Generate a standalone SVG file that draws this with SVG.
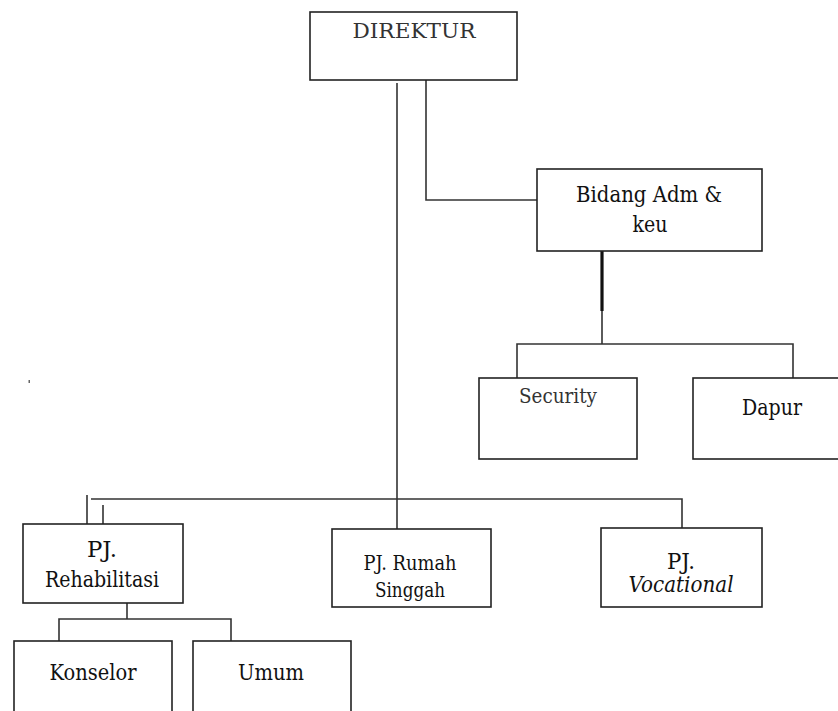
<svg xmlns="http://www.w3.org/2000/svg" width="838" height="711" viewBox="0 0 838 711">
<style>
.box{fill:#fff;stroke:#222;stroke-width:1.6}
.ln{fill:none;stroke:#333;stroke-width:1.6}
text{font-family:'DejaVu Serif','Liberation Serif',serif;fill:#111;text-anchor:middle}
.t{font-size:21.5px}
.s{font-size:19.5px}
.g{fill:#333;font-size:21px}
.i{font-style:italic}
</style>
<rect width="838" height="711" fill="#fff"/>
<g id="connectors">
<path class="ln" d="M397 83V529"/>
<path class="ln" d="M426 80V200H537"/>
<path d="M602 251V311" stroke="#111" stroke-width="3.2" fill="none"/>
<path class="ln" d="M602 311V344"/>
<path class="ln" d="M517 378V344H793V378"/>
<path class="ln" d="M91 499H682V528"/>
<path class="ln" d="M87 495V524"/>
<path class="ln" d="M103 505V524"/>
<path class="ln" d="M127 603V619"/>
<path class="ln" d="M59 641V619H231V641"/>
</g>
<rect x="28.5" y="380" width="1.5" height="3" fill="#666"/>
<g id="direktur">
<rect class="box" x="310" y="12" width="207" height="68"/>
<text class="g" x="414" y="38" textLength="123" lengthAdjust="spacingAndGlyphs">DIREKTUR</text>
</g>
<g id="bidang">
<rect class="box" x="537" y="169" width="225" height="82"/>
<text class="t" x="649" y="202" textLength="146" lengthAdjust="spacingAndGlyphs">Bidang Adm &amp;</text>
<text class="t" x="650" y="232" textLength="35" lengthAdjust="spacingAndGlyphs">keu</text>
</g>
<g id="security">
<rect class="box" x="479" y="378" width="158" height="81"/>
<text class="g" x="558" y="403" textLength="78" lengthAdjust="spacingAndGlyphs">Security</text>
</g>
<g id="dapur">
<rect class="box" x="693" y="378" width="160" height="81"/>
<text class="t" x="772" y="415" textLength="60" lengthAdjust="spacingAndGlyphs">Dapur</text>
</g>
<g id="rehabilitasi">
<rect class="box" x="23" y="524" width="160" height="79"/>
<text class="t" x="102" y="557" textLength="30" lengthAdjust="spacingAndGlyphs">PJ.</text>
<text class="t" x="102" y="587" textLength="114" lengthAdjust="spacingAndGlyphs">Rehabilitasi</text>
</g>
<g id="rumah-singgah">
<rect class="box" x="332" y="529" width="159" height="78"/>
<text class="s" x="410" y="570" textLength="93" lengthAdjust="spacingAndGlyphs">PJ. Rumah</text>
<text class="s" x="410" y="597" textLength="70" lengthAdjust="spacingAndGlyphs">Singgah</text>
</g>
<g id="vocational">
<rect class="box" x="601" y="528" width="161" height="79"/>
<text class="t" x="681" y="569" textLength="28" lengthAdjust="spacingAndGlyphs">PJ.</text>
<text class="t i" x="681" y="592" textLength="105" lengthAdjust="spacingAndGlyphs">Vocational</text>
</g>
<g id="konselor">
<rect class="box" x="14" y="641" width="158" height="80"/>
<text class="t" x="93" y="680" textLength="87" lengthAdjust="spacingAndGlyphs">Konselor</text>
</g>
<g id="umum">
<rect class="box" x="193" y="641" width="158" height="80"/>
<text class="t" x="271" y="680" textLength="66" lengthAdjust="spacingAndGlyphs">Umum</text>
</g>
</svg>
